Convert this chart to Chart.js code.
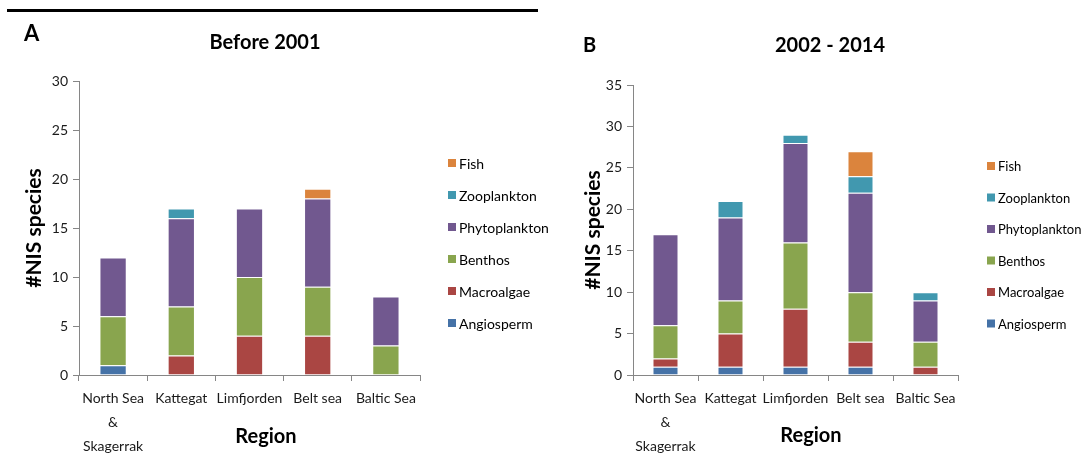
<!DOCTYPE html>
<html>
<head>
<meta charset="utf-8">
<title>NIS species per region</title>
<script src="https://cdn.jsdelivr.net/npm/chart.js@4.4.1/dist/chart.umd.min.js"></script>
<style>
  body { margin: 0; background: #fff; width: 1086px; height: 465px; position: relative; overflow: hidden; }
  .rule { position: absolute; left: 7px; top: 9px; width: 531px; height: 3px; background: #000; }
  .panel { position: absolute; top: 0; height: 465px; }
  #panelA { left: 0; width: 560px; }
  #panelB { left: 560px; width: 526px; }
</style>
</head>
<body>
<div class="rule"></div>
<div class="panel" id="panelA"><canvas id="chartA" width="560" height="465"></canvas></div>
<div class="panel" id="panelB"><canvas id="chartB" width="526" height="465"></canvas></div>
<script>
const regions = [['North Sea', '&', 'Skagerrak'], 'Kattegat', 'Limfjorden', 'Belt sea', 'Baltic Sea'];
const groups = ['Angiosperm', 'Macroalgae', 'Benthos', 'Phytoplankton', 'Zooplankton', 'Fish'];
const groupColors = ['#4572A7', '#AA4643', '#89A54E', '#71588F', '#4198AF', '#DB843D'];

// number of NIS per region, before 2001
const angioBefore   = [1, 0, 0, 0, 0];
const macroBefore   = [0, 2, 4, 4, 0];
const benthosBefore = [5, 5, 6, 5, 3];
const phytoBefore   = [6, 9, 7, 9, 5];
const zooBefore     = [0, 1, 0, 0, 0];
const fishBefore    = [0, 0, 0, 1, 0];

// number of NIS per region, 2002 - 2014
const angioLater   = [1, 1, 1, 1, 0];
const macroLater   = [1, 4, 7, 3, 1];
const benthosLater = [4, 4, 8, 6, 3];
const phytoLater   = [11, 10, 12, 12, 5];
const zooLater     = [0, 2, 1, 2, 1];
const fishLater    = [0, 0, 0, 3, 0];

const FONT = 'Lato, "Open Sans", sans-serif';
const AXIS_GREY = '#868686';

// titles, panel letter, x axis title and the legend
const panelText = {
  id: 'panelText',
  afterDraw(chart, args, o) {
    const ctx = chart.ctx;
    ctx.save();
    ctx.fillStyle = '#000';
    ctx.textBaseline = 'middle';
    ctx.textAlign = 'left';
    ctx.font = `bold ${o.letterSize}px ${FONT}`;
    ctx.fillText(o.letter, o.letterX, o.letterY);

    ctx.textAlign = 'center';
    ctx.font = `bold 20px ${FONT}`;
    ctx.fillText(o.title, o.titleX, o.titleY);
    ctx.fillText(o.xTitle, o.xTitleX, o.xTitleY);

    // legend lists the stack from top to bottom
    ctx.textAlign = 'left';
    ctx.font = `${o.legendSize}px ${FONT}`;
    chart.data.datasets.slice().reverse().forEach((ds, i) => {
      const y = o.legendY + i * o.legendGap;
      ctx.fillStyle = ds.backgroundColor;
      ctx.fillRect(o.legendX, y - 4, 8, 8);
      ctx.fillStyle = '#000';
      ctx.fillText(ds.label, o.legendX + 11, y + 1);
    });
    ctx.restore();
  }
};

function makeChart(id, series, yMax, geo, text) {
  const datasets = groups.map((g, i) => ({
    label: g,
    data: series[i].map(v => v || null),
    backgroundColor: groupColors[i],
    borderColor: 'rgba(255,255,255,0.35)',
    borderWidth: 1,
    categoryPercentage: 1,
    barPercentage: 0.4
  }));

  return new Chart(document.getElementById(id), {
    type: 'bar',
    data: { labels: regions, datasets: datasets },
    plugins: [panelText],
    options: {
      responsive: false,
      animation: false,
      layout: { padding: { top: geo.top, right: geo.right, left: 0, bottom: 0 } },
      plugins: {
        legend: { display: false },
        tooltip: { enabled: false },
        panelText: text
      },
      scales: {
        x: {
          stacked: true,
          grid: { offset: true, drawOnChartArea: false, drawTicks: true, tickLength: 6, color: AXIS_GREY },
          border: { color: AXIS_GREY },
          ticks: {
            color: '#1a1a1a',
            font: { family: FONT, size: 14, lineHeight: 1.7 },
            padding: 6,
            maxRotation: 0,
            autoSkip: false
          },
          afterFit(scale) { scale.height = 90; }
        },
        y: {
          stacked: true,
          min: 0,
          max: yMax,
          grid: { drawOnChartArea: false, tickLength: 6, color: AXIS_GREY },
          border: { color: AXIS_GREY },
          ticks: {
            stepSize: 5,
            color: '#1a1a1a',
            font: { family: FONT, size: 14 },
            padding: 5
          },
          title: {
            display: true,
            text: '#NIS species',
            color: '#000',
            font: { family: FONT, size: 21, weight: 'bold' },
            padding: { top: geo.yTitlePad, bottom: 0 }
          },
          afterFit(scale) { scale.width = geo.yWidth; }
        }
      }
    }
  });
}

makeChart('chartA',
  [angioBefore, macroBefore, benthosBefore, phytoBefore, zooBefore, fishBefore], 30,
  { top: 81, right: 140, yWidth: 79, yTitlePad: 22 },
  { letter: 'A', letterSize: 22, letterX: 24, letterY: 34,
    title: 'Before 2001', titleX: 265, titleY: 43,
    xTitle: 'Region', xTitleX: 266, xTitleY: 437,
    legendX: 448, legendY: 163, legendGap: 32, legendSize: 14 });

makeChart('chartB',
  [angioLater, macroLater, benthosLater, phytoLater, zooLater, fishLater], 35,
  { top: 85, right: 128, yWidth: 73, yTitlePad: 21 },
  { letter: 'B', letterSize: 20, letterX: 23, letterY: 46,
    title: '2002 - 2014', titleX: 270, titleY: 46,
    xTitle: 'Region', xTitleX: 251, xTitleY: 436,
    legendX: 427, legendY: 166, legendGap: 31.5, legendSize: 13 });
</script>
</body>
</html>
